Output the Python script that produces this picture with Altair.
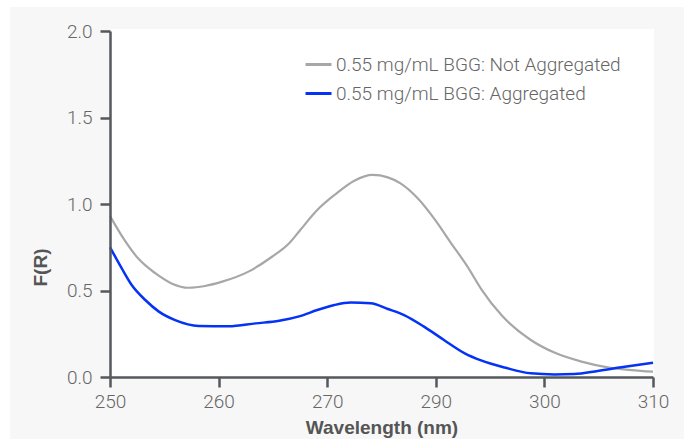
import altair as alt
import pandas as pd

# ---- data ----
nm_not_agg = [250.0, 251.5, 253.1, 255.0, 256.8, 258.7, 260.5, 262.4, 265.3, 267.9,
              269.8, 271.0, 272.9, 274.8, 277.0, 279.0, 280.7, 282.1, 284.0, 285.8,
              287.7, 289.5, 291.0, 293.3, 296.5, 299.1, 302.1, 305.0, 307.6, 310.0]
fr_not_agg = [0.93, 0.80, 0.686, 0.60, 0.541, 0.516, 0.526, 0.551, 0.609, 0.695,
              0.773, 0.848, 0.965, 1.052, 1.135, 1.168, 1.154, 1.119, 1.033, 0.917,
              0.773, 0.638, 0.510, 0.355, 0.214, 0.141, 0.089, 0.056, 0.040, 0.031]

nm_agg = [250.0, 251.3, 252.4, 253.9, 255.4, 257.2, 259.8, 263.1, 266.1, 268.7,
          271.0, 272.9, 274.8, 276.6, 278.8, 280.7, 282.5, 284.7, 286.9, 289.2,
          291.0, 293.6, 296.5, 299.1, 301.3, 303.9, 306.5, 310.0]
fr_agg = [0.75, 0.628, 0.532, 0.445, 0.378, 0.329, 0.295, 0.293, 0.310, 0.325,
          0.352, 0.387, 0.416, 0.430, 0.426, 0.393, 0.358, 0.291, 0.214, 0.137,
          0.096, 0.055, 0.021, 0.015, 0.017, 0.035, 0.056, 0.083]

series_names = ["0.55 mg/mL BGG: Not Aggregated", "0.55 mg/mL BGG: Aggregated"]
series_colors = ["#a7a7a7", "#0433f5"]

y_ticks = [0.0, 0.5, 1.0, 1.5, 2.0]
x_tick_values = [250, 262, 274, 286, 298, 310]
x_tick_labels = ["250", "260", "270", "290", "300", "310"]

# ---- build tables ----
df_not = pd.DataFrame({"nm": nm_not_agg, "fr": fr_not_agg, "series": series_names[0]})
df_agg = pd.DataFrame({"nm": nm_agg, "fr": fr_agg, "series": series_names[1]})
one = pd.DataFrame({"a": [0]})

W, H = 543, 346
FONT = "Roboto"
TITLE_FONT = "Liberation Sans"
AXIS_COL = "#55595d"

label_expr = (
    "[" + ",".join(f"'{l}'" for l in x_tick_labels) + "][indexof(["
    + ",".join(str(v) for v in x_tick_values) + "], datum.value)]"
)

x_enc = alt.X(
    "nm:Q",
    scale=alt.Scale(domain=[250, 310], nice=False, zero=False),
    axis=alt.Axis(values=x_tick_values, labelExpr=label_expr, title="Wavelength (nm)",
                  labelFlush=False, grid=False, ticks=True, labelPadding=5, titleY=56,
                  titleBaseline="alphabetic", zindex=2),
)
y_enc = alt.Y(
    "fr:Q",
    scale=alt.Scale(domain=[0, 2], nice=False, zero=True),
    axis=alt.Axis(values=y_ticks, format=".1f", title="F(R)", grid=False, ticks=True,
                  labelPadding=8, titleX=-60, titleY=236, zindex=2),
)
color_enc = alt.Color(
    "series:N",
    scale=alt.Scale(domain=series_names, range=series_colors),
    legend=alt.Legend(title=None, orient="none", legendX=194, legendY=19,
                      symbolType="stroke", symbolSize=676, symbolStrokeWidth=3,
                      labelFontSize=19, labelFont=FONT, labelFontWeight=300,
                      labelColor="#666666", labelOffset=3, rowPadding=4, padding=0,
                      labelLimit=500, zindex=2),
)

gray_bg = alt.Chart(one).mark_rect(color="#f7f7f7").encode(
    x=alt.value(-100), x2=alt.value(W + 31), y=alt.value(-24), y2=alt.value(H + 62)
)
white_bg = alt.Chart(one).mark_rect(color="white").encode(
    x=alt.value(0), x2=alt.value(W + 1), y=alt.value(-2), y2=alt.value(H)
)
line_not = alt.Chart(df_not).mark_line(strokeWidth=2.2, interpolate="monotone").encode(
    x=x_enc, y=y_enc, color=color_enc
)
line_agg = alt.Chart(df_agg).mark_line(strokeWidth=2.5, interpolate="monotone").encode(
    x=x_enc, y=y_enc, color=color_enc
)

chart = (
    alt.layer(gray_bg, white_bg, line_not, line_agg)
    .properties(
        width=W, height=H,
        autosize=alt.AutoSizeParams(type="none"),
        padding={"left": 110, "top": 31, "right": 684 - 110 - W, "bottom": 439 - 31 - H},
        background="white",
    )
    .configure_view(strokeWidth=0)
    .configure_axis(
        domainColor=AXIS_COL, domainWidth=2.5,
        tickColor=AXIS_COL, tickWidth=2.5, tickSize=10,
        labelFont=FONT, labelFontSize=19, labelFontWeight=300, labelColor="#666666",
        titleFont=TITLE_FONT, titleFontSize=19, titleFontWeight="bold", titleColor="#555555",
    )
)

chart.save("out.html", embed_options={"renderer": "svg", "actions": False})
